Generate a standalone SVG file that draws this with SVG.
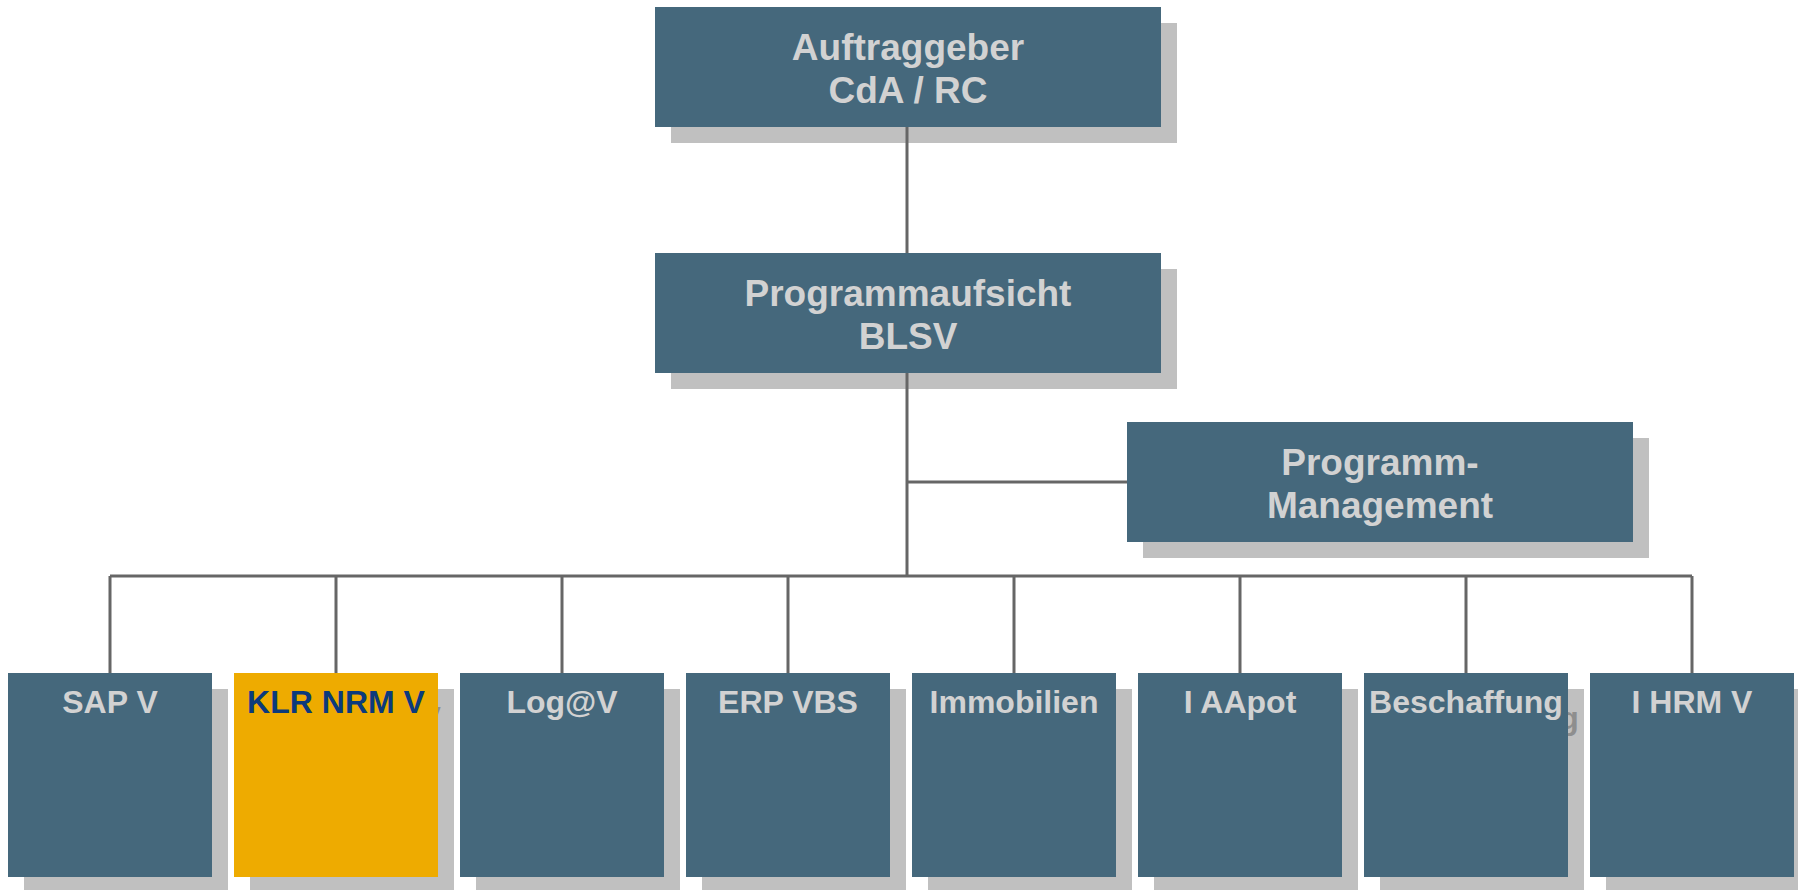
<svg xmlns="http://www.w3.org/2000/svg" width="1798" height="890" viewBox="0 0 1798 890">
<style>
.box{fill:#45687C}
.sh{fill:#C0C0C0}
.hl{fill:#EEAB00}
.t{font-family:"Liberation Sans",Arial,sans-serif;font-weight:bold;fill:#D2D2D2;text-anchor:middle}
.big{font-size:37px}
.sm{font-size:32px}
.dk{fill:#0B3A7C}
.gt{fill:#8E8E8E}
.c{stroke:#666666;stroke-width:3;fill:none}
</style>
<rect width="1798" height="890" fill="#FFFFFF"/>
<g id="auftraggeber">
<rect class="sh" x="671" y="23" width="506" height="120"/>
<rect class="box" x="655" y="7" width="506" height="120"/>
<text class="t big" x="908" y="60">Auftraggeber</text>
<text class="t big" x="908" y="103">CdA / RC</text>
</g>
<g id="programmaufsicht">
<rect class="sh" x="671" y="269" width="506" height="120"/>
<rect class="box" x="655" y="253" width="506" height="120"/>
<text class="t big" x="908" y="306">Programmaufsicht</text>
<text class="t big" x="908" y="349">BLSV</text>
</g>
<g id="programm-management">
<rect class="sh" x="1143" y="438" width="506" height="120"/>
<rect class="box" x="1127" y="422" width="506" height="120"/>
<text class="t big" x="1380" y="475">Programm-</text>
<text class="t big" x="1380" y="518">Management</text>
</g>
<g id="sap-v">
<rect class="sh" x="24" y="689" width="204" height="204"/>
<rect class="box" x="8" y="673" width="204" height="204"/>
<text class="t sm" x="110" y="713">SAP V</text>
</g>
<g id="klr-nrm-v">
<rect class="sh" x="250" y="689" width="204" height="204"/>
<text class="t sm gt" x="352" y="729">KLR NRM V</text>
<rect class="hl" x="234" y="673" width="204" height="204"/>
<text class="t sm dk" x="336" y="713">KLR NRM V</text>
</g>
<g id="log-v">
<rect class="sh" x="476" y="689" width="204" height="204"/>
<rect class="box" x="460" y="673" width="204" height="204"/>
<text class="t sm" x="562" y="713">Log@V</text>
</g>
<g id="erp-vbs">
<rect class="sh" x="702" y="689" width="204" height="204"/>
<rect class="box" x="686" y="673" width="204" height="204"/>
<text class="t sm" x="788" y="713">ERP VBS</text>
</g>
<g id="immobilien">
<rect class="sh" x="928" y="689" width="204" height="204"/>
<rect class="box" x="912" y="673" width="204" height="204"/>
<text class="t sm" x="1014" y="713">Immobilien</text>
</g>
<g id="i-aapot">
<rect class="sh" x="1154" y="689" width="204" height="204"/>
<rect class="box" x="1138" y="673" width="204" height="204"/>
<text class="t sm" x="1240" y="713">I AApot</text>
</g>
<g id="beschaffung">
<rect class="sh" x="1380" y="689" width="204" height="204"/>
<text class="t sm gt" x="1482" y="729">Beschaffung</text>
<rect class="box" x="1364" y="673" width="204" height="204"/>
<text class="t sm" x="1466" y="713">Beschaffung</text>
</g>
<g id="i-hrm-v">
<rect class="sh" x="1606" y="689" width="204" height="204"/>
<rect class="box" x="1590" y="673" width="204" height="204"/>
<text class="t sm" x="1692" y="713">I HRM V</text>
</g>
<g id="connectors">
<path class="c" d="M907 127V253M907 373V576M907 482H1127M110 576H1692"/>
<path class="c" d="M110 576V673M336 576V673M562 576V673M788 576V673M1014 576V673M1240 576V673M1466 576V673M1692 576V673"/>
</g>
</svg>
